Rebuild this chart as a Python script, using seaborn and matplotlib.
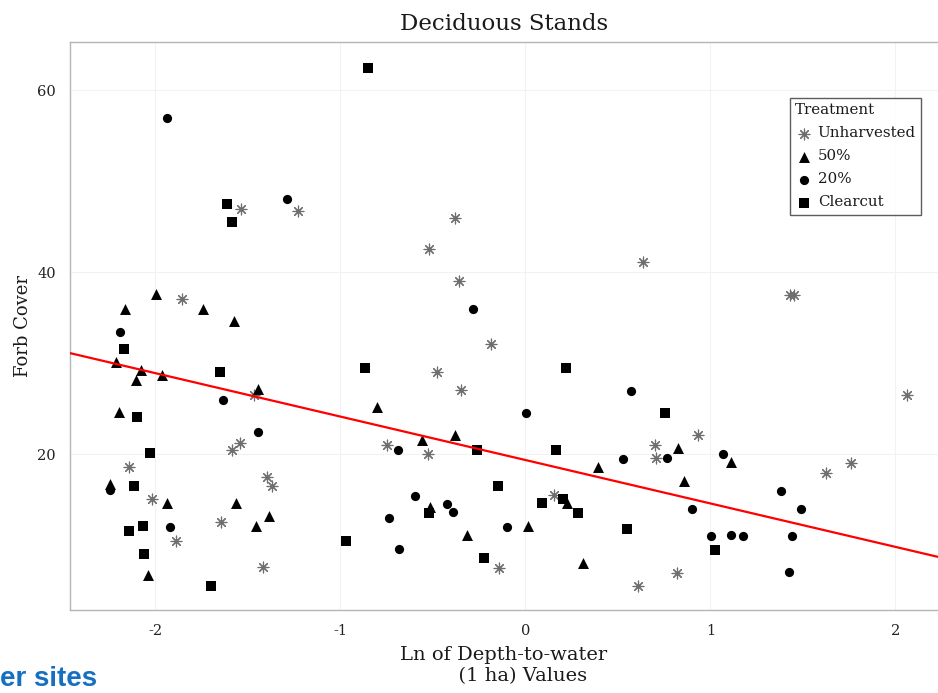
import matplotlib
matplotlib.use("Agg")
import matplotlib.pyplot as plt
import seaborn as sns
import pandas as pd

# ---- data ----
unharv_x = [-1.535, -1.227, -1.854, -0.378, -0.519, -0.357, -0.184, -0.476, -0.346, -0.746,
            -0.524, -1.465, -1.54, -1.584, -2.14, -1.395, -1.368, -2.016, -1.643, -1.886,
            -1.416, 0.157, -0.14, 0.638, 0.703, 0.708, 0.935, 0.822, 0.611, 1.627, 1.762,
            2.065, 1.43, 1.45]
unharv_y = [46.9, 46.7, 37.0, 45.9, 42.5, 39.0, 32.1, 29.0, 27.0, 21.0,
            20.0, 26.5, 21.2, 20.4, 18.6, 17.5, 16.5, 15.1, 12.5, 10.4,
            7.6, 15.5, 7.5, 41.1, 21.0, 19.6, 22.1, 6.9, 5.5, 17.9, 19.0,
            26.5, 37.5, 37.5]

p50_x = [-1.995, -2.162, -1.741, -1.573, -2.21, -2.076, -2.103, -1.962, -1.443, -2.195,
         -2.243, -1.935, -1.562, -1.384, -1.454, -2.038, -0.8, -0.557, -0.378, -0.514,
         -0.314, 0.016, 0.227, 0.314, 0.395, 0.827, 0.86, 1.114]
p50_y = [37.6, 36.0, 36.0, 34.6, 30.1, 29.2, 28.1, 28.7, 27.1, 24.6,
         16.7, 14.6, 14.6, 13.2, 12.1, 6.7, 25.2, 21.6, 22.1, 14.2,
         11.1, 12.1, 14.6, 8.0, 18.6, 20.7, 17.0, 19.1]

p20_x = [-1.935, -1.286, -2.19, -1.632, -1.443, -2.243, -1.919, -0.281, -0.686, -0.595,
         -0.735, -0.681, -0.422, -0.389, -0.097, 0.005, 0.573, 0.53, 0.768, 1.07,
         0.903, 1.384, 1.492, 1.005, 1.114, 1.178, 1.443, 1.427]
p20_y = [57.0, 48.0, 33.4, 26.0, 22.4, 16.0, 12.0, 35.9, 20.4, 15.4,
         13.0, 9.6, 14.5, 13.6, 12.0, 24.5, 26.9, 19.5, 19.6, 20.0,
         14.0, 15.9, 14.0, 11.0, 11.1, 11.0, 11.0, 7.0]

clear_x = [-0.849, -1.611, -1.584, -2.168, -1.649, -2.097, -2.027, -2.114, -2.065, -2.141,
           -2.059, -1.697, -0.865, 0.222, -0.259, 0.168, -0.146, -0.519, -0.968, -0.222,
           0.092, 0.205, 0.286, 0.757, 0.551, 1.027]
clear_y = [62.4, 47.5, 45.5, 31.5, 29.0, 24.1, 20.1, 16.5, 12.1, 11.5,
           9.0, 5.5, 29.5, 29.5, 20.4, 20.4, 16.5, 13.5, 10.5, 8.6,
           14.6, 15.1, 13.5, 24.5, 11.8, 9.5]

treatments = ["Unharvested", "50%", "20%", "Clearcut"]

# fitted line end points (as drawn in the reference)
fit_x = [-2.46, 2.23]
fit_y = [31.1, 8.7]

x_ticks = [-2, -1, 0, 1, 2]
y_ticks = [20, 40, 60]

# ---- build tables ----
frames = []
for name, xs, ys in zip(treatments, [unharv_x, p50_x, p20_x, clear_x],
                        [unharv_y, p50_y, p20_y, clear_y]):
    frames.append(pd.DataFrame({"x": xs, "y": ys, "Treatment": name}))
df = pd.concat(frames, ignore_index=True)
fit_df = pd.DataFrame({"x": fit_x, "y": fit_y})

sns.set_theme(style="white")
serif = ["DejaVu Serif"]
plt.rcParams["font.family"] = serif

fig = plt.figure(figsize=(9.38, 6.93), dpi=100)
ax = fig.add_axes([70 / 938, 1 - 610 / 693, 868 / 938, 568 / 693])

styles = {
    "Unharvested": dict(marker=(8, 2, 0), s=60, color="#6e6e6e", linewidth=0.85),
    "50%": dict(marker="^", s=62, color="black", linewidth=0),
    "20%": dict(marker="o", s=44, color="black", linewidth=0),
    "Clearcut": dict(marker="s", s=46, color="black", linewidth=0),
}

for name in treatments:
    sub = df[df["Treatment"] == name]
    sns.scatterplot(data=sub, x="x", y="y", ax=ax, label=name, zorder=3, **styles[name])

sns.lineplot(data=fit_df, x="x", y="y", ax=ax, color="red", linewidth=1.6, zorder=4)

ax.set_xlim(-2.46, 2.23)
ax.set_ylim(2.86, 65.3)
ax.set_xticks(x_ticks)
ax.set_xticklabels([str(t) for t in x_ticks])
ax.set_yticks(y_ticks)
ax.grid(True, color="#f2f2f2", linewidth=0.8)
ax.set_axisbelow(True)

for side in ["left", "bottom", "top"]:
    ax.spines[side].set_color("#b5b5b5")
    ax.spines[side].set_linewidth(1.0)
ax.spines["right"].set_visible(False)

ax.tick_params(axis="both", which="major", direction="out", length=4, width=0.8,
               color="#777777", labelcolor="#222222", labelsize=10.5, pad=6)
for lab in ax.get_xticklabels() + ax.get_yticklabels():
    lab.set_family(serif)

ax.set_xlabel("Ln of Depth-to-water\n      (1 ha) Values", fontsize=14, color="#1a1a1a",
              family=serif, labelpad=6, linespacing=1.2)
ax.set_ylabel("Forb Cover", fontsize=13, color="#1a1a1a", family=serif, labelpad=4)
ax.set_title("Deciduous Stands", fontsize=16.5, color="#1a1a1a", family=serif, pad=9)

leg = ax.legend(title="Treatment", loc="upper left", bbox_to_anchor=(0.8295, 0.901),
                borderaxespad=0, frameon=True, fancybox=False, edgecolor="#333333",
                fontsize=10.8, title_fontsize=10.8, handletextpad=0.3, labelspacing=0.6,
                borderpad=0.35, handlelength=1.2, alignment="left")
leg.get_frame().set_linewidth(1.0)
for t in leg.get_texts():
    t.set_family(serif)
    t.set_color("#1a1a1a")
leg.get_title().set_family(serif)
leg.get_title().set_color("#1a1a1a")

fig.text(0.0, 1 / 693, "er sites", fontsize=20, fontweight="bold", color="#1570c0",
         family=["Liberation Sans", "DejaVu Sans"], ha="left", va="bottom")

fig.savefig("out.png", dpi=100)
